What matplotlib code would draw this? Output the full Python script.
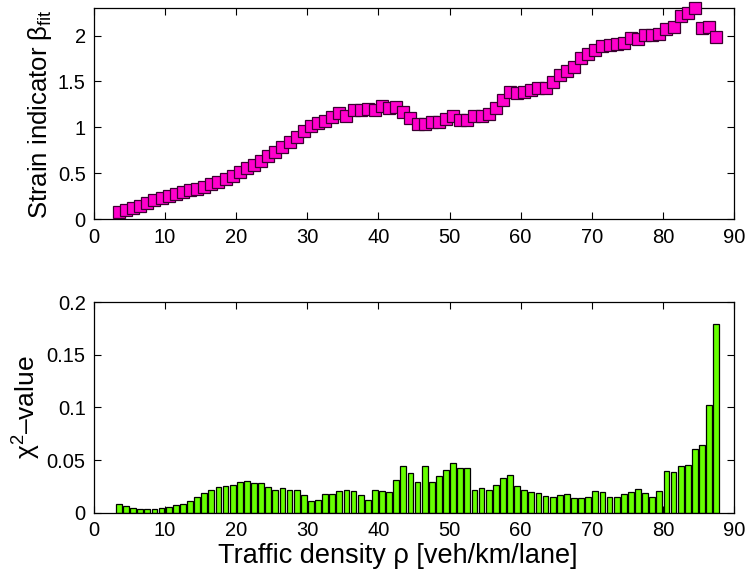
import numpy as np
import matplotlib
matplotlib.use("Agg")
import matplotlib.pyplot as plt

plt.rcParams['font.family'] = ['Liberation Sans', 'DejaVu Sans']
plt.rcParams['mathtext.fontset'] = 'custom'
plt.rcParams['mathtext.rm'] = 'Liberation Sans'
plt.rcParams['mathtext.it'] = 'Liberation Sans:italic'

density = [3.5 + i for i in range(85)]

beta_fit = [
    0.08, 0.10, 0.12, 0.148, 0.178, 0.207, 0.229, 0.254, 0.279, 0.297,
    0.316, 0.33, 0.355, 0.38, 0.406, 0.439, 0.472, 0.512, 0.556, 0.588,
    0.636, 0.686, 0.733, 0.787, 0.842, 0.896, 0.962, 1.016, 1.049, 1.074,
    1.11, 1.158, 1.125, 1.19, 1.19, 1.205, 1.187, 1.234, 1.212, 1.223,
    1.168, 1.103, 1.041, 1.041, 1.06, 1.063, 1.096, 1.122, 1.085, 1.085,
    1.125, 1.125, 1.15, 1.216, 1.303, 1.383, 1.379, 1.387, 1.405, 1.426,
    1.426, 1.499, 1.572, 1.618, 1.66, 1.757, 1.797, 1.848, 1.883, 1.895,
    1.906, 1.924, 1.971, 1.964, 2.004, 2.007, 2.015, 2.07, 2.094, 2.218,
    2.251, 2.305, 2.08, 2.098, 1.985,
]

chi2 = [
    0.008, 0.006, 0.004, 0.0038, 0.0038, 0.0038, 0.0047, 0.0053, 0.007, 0.0085,
    0.011, 0.0146, 0.019, 0.022, 0.0247, 0.0253, 0.026, 0.0288, 0.030, 0.0285,
    0.0285, 0.0244, 0.0218, 0.0234, 0.0215, 0.0212, 0.0165, 0.0114, 0.012, 0.0177,
    0.0174, 0.0206, 0.0215, 0.0206, 0.0165, 0.0123, 0.0212, 0.0209, 0.0193, 0.0307,
    0.0443, 0.0374, 0.0291, 0.044, 0.0294, 0.0351, 0.0408, 0.0468, 0.0421, 0.0427,
    0.022, 0.0231, 0.0218, 0.0263, 0.0329, 0.0355, 0.025, 0.0212, 0.0196, 0.0184,
    0.0155, 0.0146, 0.0165, 0.018, 0.0139, 0.0143, 0.0153, 0.0207, 0.0201, 0.0153,
    0.0153, 0.0182, 0.0194, 0.0229, 0.0185, 0.015, 0.021, 0.0395, 0.0382, 0.044,
    0.0449, 0.0602, 0.064, 0.1022, 0.1787,
]

xticks = [0, 10, 20, 30, 40, 50, 60, 70, 80, 90]
top_yticks = [0, 0.5, 1, 1.5, 2]
top_yticklabels = ['0', '0.5', '1', '1.5', '2']
bot_yticks = [0, 0.05, 0.1, 0.15, 0.2]
bot_yticklabels = ['0', '0.05', '0.1', '0.15', '0.2']

fig = plt.figure(figsize=(7.48, 5.70), dpi=100)
W, H = 748, 570
ax1 = fig.add_axes([94 / W, 1 - 219.3 / H, 640 / W, 211.3 / H])
ax2 = fig.add_axes([94 / W, 1 - 512.7 / H, 640 / W, 210.7 / H])

ax1.plot(density, beta_fit, linestyle='none', marker='s', markersize=8.3,
         markerfacecolor='#ff00cc', markeredgecolor='#3a0030',
         markeredgewidth=0.9, clip_on=False, zorder=3)
ax1.set_xlim(0, 90)
ax1.set_ylim(0, 2.3)
ax1.set_yticks(top_yticks)
ax1.set_yticklabels(top_yticklabels)
ax1.set_ylabel(r'Strain indicator β$_{\mathrm{fit}}$', fontsize=18.5, labelpad=3)

ax2.bar(density, chi2, width=0.8, color='#66ff00', edgecolor='black',
        linewidth=0.9, zorder=2)
ax2.set_xlim(0, 90)
ax2.set_ylim(0, 0.2)
ax2.set_yticks(bot_yticks)
ax2.set_yticklabels(bot_yticklabels)
ax2.set_ylabel(r'χ$^{2}$–value', fontsize=19, labelpad=3)
ax2.set_xlabel('Traffic density ρ [veh/km/lane]', fontsize=19.5, labelpad=0)
ax2.xaxis.set_label_coords(0.475, -0.142)

for ax in (ax1, ax2):
    ax.set_xticks(xticks)
    ax.tick_params(direction='in', top=True, right=True, length=5,
                   width=0.8, labelsize=14.5, pad=6)
    for s in ax.spines.values():
        s.set_linewidth(0.9)

fig.savefig('out.png', dpi=100)
